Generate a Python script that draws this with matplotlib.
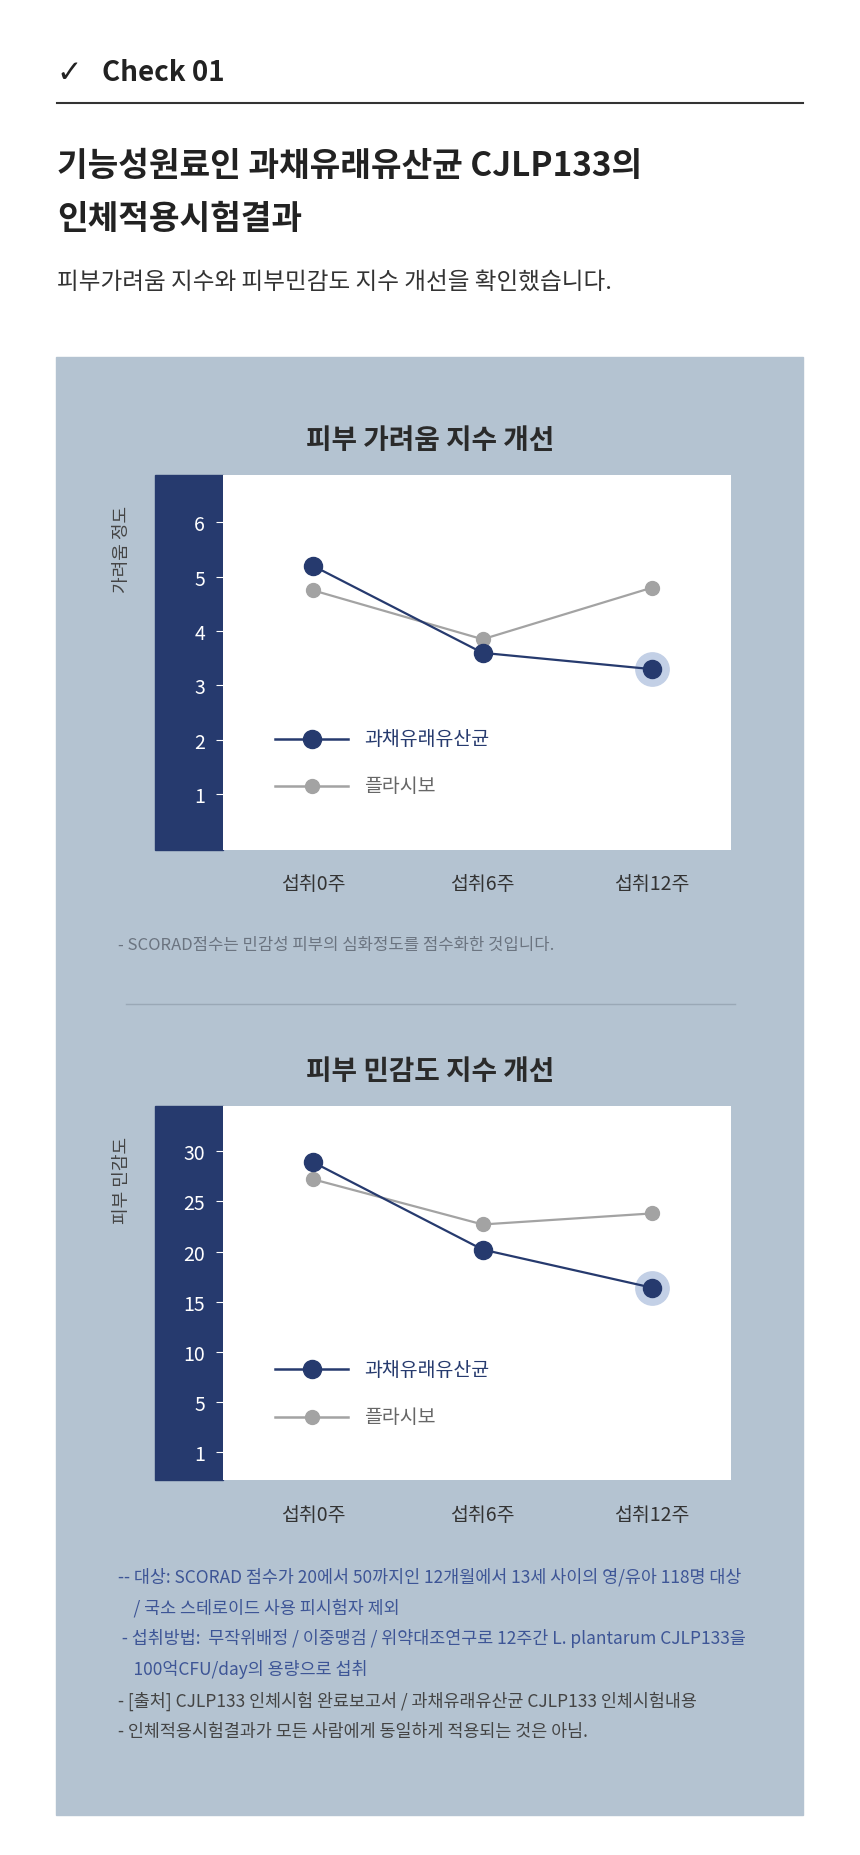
import matplotlib
matplotlib.use("Agg")
import matplotlib.pyplot as plt
from matplotlib.lines import Line2D
from matplotlib.patches import Rectangle

plt.rcParams["font.family"] = ["Noto Sans CJK KR", "Noto Sans CJK JP", "Noto Sans CJK SC",
                               "DejaVu Sans"]

# reference layout units (whole picture is W x H of these)
W, H = 728, 1571

NAVY = "#263a6e"
GREY = "#a3a3a3"
PANEL = "#b4c3d1"
HALO = "#c3d0e6"

weeks = ["섭취0주", "섭취6주", "섭취12주"]
series_names = ["과채유래유산균", "플라시보"]

itch_probiotic = [5.2, 3.6, 3.3]
itch_placebo = [4.75, 3.85, 4.8]
itch_ticks = [1, 2, 3, 4, 5, 6]
itch_ticklabels = ["1", "2", "3", "4", "5", "6"]

sens_probiotic = [28.9, 20.2, 16.4]
sens_placebo = [27.2, 22.7, 23.8]
sens_ticks = [0, 5, 10, 15, 20, 25, 30]
sens_ticklabels = ["1", "5", "10", "15", "20", "25", "30"]

notes_blue = [
    "-- 대상: SCORAD 점수가 20에서 50까지인 12개월에서 13세 사이의 영/유아 118명 대상",
    "    / 국소 스테로이드 사용 피시험자 제외",
    " - 섭취방법:  무작위배정 / 이중맹검 / 위약대조연구로 12주간 L. plantarum CJLP133을",
    "    100억CFU/day의 용량으로 섭취",
]
notes_grey = [
    "- [출처] CJLP133 인체시험 완료보고서 / 과채유래유산균 CJLP133 인체시험내용",
    "- 인체적용시험결과가 모든 사람에게 동일하게 적용되는 것은 아님.",
]


def fx(x):
    return x / W


def fy(y):
    return 1 - y / H


def text(x, y, s, **kw):
    fig.text(fx(x), fy(y), s, **kw)


def draw_chart(top, bottom, title, ylabel, prob, plac, ticks, ticklabels, ylim):
    text(364, top - 30, title, ha="center", va="center", fontsize=20,
         fontweight="bold", color="#2a2a2a")
    fig.add_artist(Rectangle((fx(131), fy(bottom)), fx(58), (bottom - top) / H,
                             transform=fig.transFigure, color=NAVY, zorder=0))
    ax = fig.add_axes([fx(189), fy(bottom), fx(619 - 189), (bottom - top) / H])
    ax.set_facecolor("white")
    for sp in ax.spines.values():
        sp.set_visible(False)
    x = list(range(len(weeks)))
    ax.plot(x, plac, color=GREY, lw=1.6, marker="o", ms=10, mec=GREY, mfc=GREY, zorder=2)
    ax.plot(x[-1], prob[-1], "o", ms=24, color=HALO, zorder=3)
    ax.plot(x, prob, color=NAVY, lw=1.6, marker="o", ms=13, mec=NAVY, mfc=NAVY, zorder=4)
    ax.set_xlim(-0.53, 2.467)
    ax.set_ylim(*ylim)
    ax.set_yticks(ticks)
    ax.set_yticklabels(ticklabels)
    ax.tick_params(axis="y", colors="white", labelsize=14, length=5, width=0.8, pad=8)
    ax.set_xticks(x)
    ax.set_xticklabels(weeks)
    ax.tick_params(axis="x", length=0, labelsize=14, colors="#333333", pad=17)
    text(103, top + 62, ylabel, rotation=90, ha="center", va="center",
         fontsize=13, color="#444444")

    # legend drawn by hand
    for i, (name, col, ms) in enumerate([(series_names[0], NAVY, 13),
                                          (series_names[1], GREY, 10)]):
        ly = bottom - 94 + i * 40
        fig.add_artist(Line2D([fx(233), fx(295)], [fy(ly), fy(ly)], color=col, lw=1.8,
                              transform=fig.transFigure))
        fig.add_artist(Line2D([fx(264)], [fy(ly)], marker="o", ms=ms, color=col,
                              transform=fig.transFigure))
        text(308, ly, name, va="center", fontsize=14,
             color=NAVY if i == 0 else "#666666")
    return ax


fig = plt.figure(figsize=(8.6, 18.56), dpi=100)
fig.patch.set_facecolor("white")

# header
text(48, 62, "✓", va="center", fontsize=22, color="#222222", family="DejaVu Sans")
text(86, 62, "Check 01", va="center", fontsize=20, fontweight="bold", color="#222222")
fig.add_artist(Line2D([fx(48), fx(680)], [fy(88), fy(88)], color="#333333", lw=1.5,
                      transform=fig.transFigure))
text(48, 141, "기능성원료인 과채유래유산균 CJLP133의", va="center", fontsize=24,
     fontweight="bold", color="#222222")
text(48, 186, "인체적용시험결과", va="center", fontsize=24, fontweight="bold", color="#222222")
text(48, 240, "피부가려움 지수와 피부민감도 지수 개선을 확인했습니다.", va="center",
     fontsize=17, color="#333333")

fig.add_artist(Rectangle((fx(47), fy(1537)), fx(680 - 47), (1537 - 303) / H,
                         transform=fig.transFigure, color=PANEL, zorder=0))

draw_chart(403, 720, "피부 가려움 지수 개선", "가려움 정도", itch_probiotic, itch_placebo,
           itch_ticks, itch_ticklabels, (-0.02, 6.87))
text(100, 800, "- SCORAD점수는 민감성 피부의 심화정도를 점수화한 것입니다.", va="center",
     fontsize=12, color="#6b7480")
fig.add_artist(Line2D([fx(107), fx(622)], [fy(851), fy(851)], color="#9aa8b6", lw=1,
                      transform=fig.transFigure))

draw_chart(937, 1254, "피부 민감도 지수 개선", "피부 민감도", sens_probiotic, sens_placebo,
           sens_ticks, sens_ticklabels, (-2.8, 34.5))

for i, line in enumerate(notes_blue):
    text(100, 1335 + i * 26, line, va="center", fontsize=12.5, color="#3d5596")
for i, line in enumerate(notes_grey):
    text(100, 1440 + i * 26, line, va="center", fontsize=12.5, color="#444444")

fig.savefig("out.png", dpi=100, facecolor="white")
